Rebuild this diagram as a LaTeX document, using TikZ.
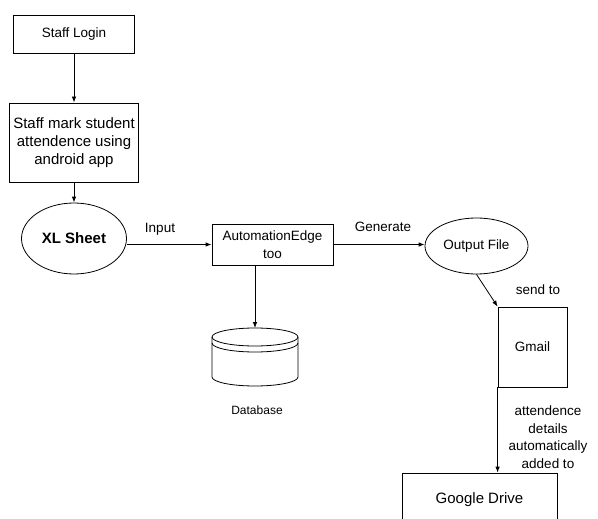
\documentclass[tikz,border=0pt]{standalone}
\usepackage{fontspec}
\setmainfont{Liberation Sans}
\usetikzlibrary{arrows.meta,shapes.geometric}

\begin{document}
\begin{tikzpicture}[x=1pt, y=-1pt,
	box/.style={draw, line width=0.8pt, align=center, inner sep=1pt},
	oval/.style={draw, ellipse, line width=0.8pt, inner sep=0pt},
	arr/.style={line width=0.8pt, -{Latex[length=6pt,width=4.5pt]}},
	txt/.style={font=\fontsize{13.5}{17.5}\selectfont}]
		%%%%% START %%%%%
		\useasboundingbox (0, 0) rectangle (598, 519);
		
		\node[box, txt, minimum width=121pt, minimum height=38pt] (login) at (74, 34) {Staff Login};
		\node[box, font=\fontsize{15}{18}\selectfont, minimum width=129pt, minimum height=79pt] (mark) at (74, 142.5) {Staff mark student\\attendence using\\android app};
		\node[oval, font=\bfseries\fontsize{15}{18}\selectfont, minimum width=105pt, minimum height=71pt] (xl) at (74, 238.5) {XL Sheet};
		
		\node[box, txt, minimum width=121pt, minimum height=41pt] (auto) at (272.5, 244.5) {AutomationEdge\\too};
		\node[oval, txt, minimum width=103pt, minimum height=56pt] (out) at (476.5, 246) {Output File};
		
		\node[box, txt, minimum width=69pt, minimum height=80pt] (gmail) at (532.5, 347) {Gmail};
		\node[box, font=\fontsize{15}{18}\selectfont, minimum width=155pt, minimum height=54pt] (drive) at (479.5, 500) {Google Drive};
		
		% database
		\coordinate (db) at (255, 328);
		\draw[line width=0.8pt] (255, 337) ellipse [x radius=43pt, y radius=9pt];
		\draw[line width=0.8pt] (212, 343) arc [start angle=180, end angle=360, x radius=43pt, y radius=9pt];
		\draw[line width=0.8pt] (212, 337) -- (212, 377) arc [start angle=180, end angle=360, x radius=43pt, y radius=9pt] -- (298, 337);
		\node[font=\fontsize{12}{14}\selectfont] (dblabel) at (257, 410) {Database};
		
		\draw[arr] (login) -- (mark);
		\draw[arr] (mark) -- (xl);
		\draw[arr] (xl.east |- auto.west) -- (auto.west);
		\draw[arr] (auto.east) -- (out.west |- auto.east);
		\draw[arr] (db |- auto.south) -- (db);
		\draw[arr] (out.south) -- (gmail.north west);
		\draw[arr] (gmail.south west) -- (gmail.south west |- drive.north);
		
		\node[txt] (input) at (160, 229) {Input};
		\node[txt] (generate) at (383, 227) {Generate};
		\node[txt] (sendto) at (538, 290) {send to};
		\node[txt, align=center] (added) at (548, 437) {attendence\\details\\automatically\\added to};
		%%%%% END %%%%%
\end{tikzpicture}
\end{document}
